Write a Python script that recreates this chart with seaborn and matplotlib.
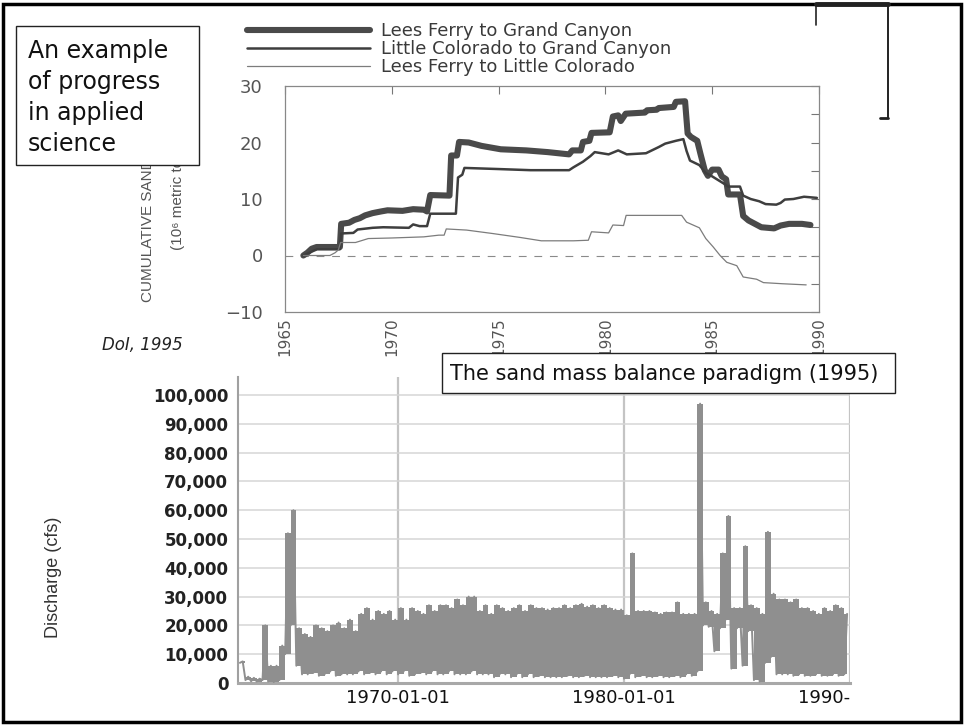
import matplotlib
matplotlib.use('Agg')
import matplotlib.pyplot as plt
import matplotlib.dates as mdates
from matplotlib.ticker import MultipleLocator, FuncFormatter
from matplotlib.patches import Rectangle
from matplotlib.lines import Line2D
from matplotlib.transforms import Bbox, TransformedBbox
from matplotlib import font_manager
import pandas as pd
import seaborn as sns

# --- top panel: cumulative sand storage, 10^6 metric tons ---
reaches = ['Lees Ferry to Grand Canyon', 'Little Colorado to Grand Canyon', 'Lees Ferry to Little Colorado']

lfgc_year = [1965.86, 1966.05, 1966.25, 1966.48, 1967.57, 1967.63, 1968.0, 1968.25, 1968.5, 1968.75,
             1969.1, 1969.5, 1969.8, 1970.5, 1971.0, 1971.5, 1971.65, 1971.8, 1972.7, 1972.78,
             1973.05, 1973.15, 1973.6, 1974.2, 1975.1, 1976.3, 1977.3, 1978.3, 1978.45, 1978.85,
             1978.95, 1979.25, 1979.35, 1980.2, 1980.35, 1980.6, 1980.72, 1980.95, 1981.85, 1981.95,
             1982.4, 1982.5, 1983.2, 1983.3, 1983.73, 1983.85, 1984.0, 1984.3, 1984.45, 1984.65,
             1984.8, 1985.0, 1985.3, 1985.45, 1985.65, 1985.75, 1986.3, 1986.45, 1986.7, 1986.9,
             1987.3, 1987.9, 1988.2, 1988.6, 1989.2, 1989.6]
lfgc_sand = [0.0, 0.5, 1.2, 1.5, 1.5, 5.6, 5.8, 6.3, 6.6, 7.1,
             7.5, 7.8, 8.0, 7.9, 8.2, 8.1, 7.8, 10.7, 10.6, 17.7,
             17.7, 20.1, 20.0, 19.4, 18.8, 18.6, 18.3, 17.9, 18.6, 18.6,
             20.1, 20.3, 21.7, 21.8, 24.6, 24.8, 23.8, 25.1, 25.3, 25.7,
             25.8, 26.1, 26.3, 27.2, 27.3, 21.6, 21.0, 20.3, 18.0, 15.1,
             14.1, 15.2, 15.2, 14.0, 13.5, 10.8, 10.8, 7.0, 6.2, 5.8,
             5.0, 4.8, 5.3, 5.6, 5.6, 5.4]

lcgc_year = [1965.86, 1966.2, 1966.5, 1967.57, 1967.63, 1968.2, 1968.4, 1969.1, 1969.6, 1970.8,
             1971.0, 1971.3, 1971.65, 1971.8, 1973.0, 1973.1, 1973.3, 1973.4, 1975.0, 1976.5,
             1978.3, 1978.5, 1978.95, 1979.3, 1979.5, 1980.15, 1980.6, 1981.0, 1981.9, 1982.5,
             1982.8, 1983.3, 1983.65, 1983.8, 1983.96, 1984.4, 1984.7, 1985.0, 1985.3, 1985.6,
             1985.75, 1986.3, 1986.45, 1986.8, 1987.2, 1987.5, 1988.0, 1988.2, 1988.4, 1988.8,
             1989.3, 1989.9]
lcgc_sand = [0.0, 0.6, 1.1, 1.1, 3.9, 4.0, 4.6, 4.9, 5.0, 4.9,
             5.5, 5.2, 5.2, 7.4, 7.4, 13.8, 14.3, 15.5, 15.3, 15.1,
             15.1, 15.6, 16.6, 17.6, 18.3, 17.9, 18.6, 17.9, 18.1, 19.2,
             19.8, 20.3, 20.6, 18.5, 16.8, 16.0, 14.6, 14.0, 13.3, 12.6,
             12.2, 12.2, 10.6, 10.0, 9.6, 9.1, 9.0, 9.3, 9.9, 10.0,
             10.4, 10.2]

lflc_year = [1965.86, 1967.1, 1967.35, 1967.5, 1967.6, 1968.3, 1968.9, 1970.0, 1971.5, 1972.2,
             1972.45, 1972.55, 1973.5, 1974.7, 1976.0, 1977.0, 1978.5, 1979.2, 1979.35, 1980.15,
             1980.35, 1980.85, 1980.97, 1983.57, 1983.8, 1984.4, 1984.7, 1985.05, 1985.37, 1985.68,
             1986.15, 1986.45, 1987.08, 1987.4, 1988.3, 1989.4]
lflc_sand = [0.0, 0.0, 0.5, 1.0, 2.3, 2.3, 3.0, 3.1, 3.3, 3.6,
             3.6, 4.7, 4.5, 3.9, 3.2, 2.6, 2.6, 2.7, 4.2, 4.0,
             5.4, 5.3, 7.1, 7.1, 5.9, 4.9, 3.0, 1.5, 0.0, -1.2,
             -1.8, -3.8, -4.2, -4.8, -5.0, -5.2]

# --- bottom panel: Lees Ferry discharge, quarterly low / high (1000 cfs) ---
flow_start = 1963
flow_lo = [7.0, 1.0, 0.6, 0.5,      # 1963
           1.0, 0.5, 0.3, 1.0,      # 1964
           10.0, 20.0, 6.0, 3.0,    # 1965
           3.0, 3.5, 2.5, 3.0,      # 1966
           4.0, 2.5, 3.0, 3.0,      # 1967
           3.0, 4.0, 3.0, 3.5,      # 1968
           3.0, 4.0, 3.0, 4.0,      # 1969
           3.0, 4.0, 2.5, 3.0,      # 1970
           3.5, 3.0, 4.0, 3.0,      # 1971
           3.0, 4.0, 3.0, 3.0,      # 1972
           3.0, 4.0, 3.0, 3.0,      # 1973
           3.0, 2.0, 3.0, 3.0,      # 1974
           2.0, 3.0, 2.0, 3.0,      # 1975
           2.0, 2.5, 2.0, 2.0,      # 1976
           2.0, 2.0, 2.5, 2.0,      # 1977
           2.0, 2.5, 2.0, 2.0,      # 1978
           2.0, 2.0, 2.5, 2.0,      # 1979
           1.5, 3.0, 2.0, 2.5,      # 1980
           2.0, 2.0, 2.5, 2.0,      # 1981
           2.0, 2.5, 2.0, 3.0,      # 1982
           2.5, 4.0, 20.0, 19.5,    # 1983
           11.0, 19.0, 22.0, 5.0,   # 1984
           19.0, 6.0, 18.0, 1.0,    # 1985
           0.5, 7.0, 9.0, 3.0,      # 1986
           3.0, 3.0, 2.5, 3.0,      # 1987
           2.5, 2.5, 3.0, 2.5,      # 1988
           2.5, 3.0, 2.5, 3.0]      # 1989
flow_hi = [7.5, 2.2, 1.8, 1.5,
           20.0, 6.0, 6.0, 13.0,
           52.0, 60.0, 19.0, 17.0,
           16.0, 20.0, 19.0, 18.0,
           20.0, 21.0, 19.0, 22.0,
           18.0, 24.0, 26.0, 22.0,
           25.0, 24.0, 25.0, 22.0,
           26.0, 22.0, 26.0, 25.0,
           24.0, 27.0, 25.0, 27.0,
           27.0, 26.0, 29.0, 27.0,
           30.0, 30.0, 25.0, 27.0,
           24.0, 27.0, 26.0, 25.0,
           26.0, 27.0, 25.0, 27.0,
           26.0, 26.0, 25.5, 26.0,
           26.0, 27.0, 26.0, 27.0,
           27.5, 26.5, 27.0, 26.0,
           27.0, 26.0, 25.5, 25.5,
           23.5, 45.0, 25.0, 25.0,
           25.0, 24.5, 24.0, 24.5,
           24.5, 28.0, 24.0, 24.0,
           24.0, 97.0, 28.0, 25.0,
           24.0, 45.0, 58.0, 26.0,
           26.0, 47.5, 27.0, 26.0,
           24.0, 52.5, 31.0, 29.0,
           29.0, 28.0, 29.0, 26.0,
           26.0, 25.0, 24.0, 26.0,
           25.0, 27.0, 26.0, 24.0]

sns.set_theme(style='white')
plt.rcParams['font.family'] = ['DejaVu Sans']

try:
    font_manager.findfont('Liberation Sans Narrow', fallback_to_default=False)
    narrow, narrow_size = 'Liberation Sans Narrow', 13
except ValueError:
    narrow, narrow_size = 'Liberation Sans', 11

W, H = 965, 726


def fx(px):
    return px / W


def fy(py):
    return 1 - py / H


fig = plt.figure(figsize=(9.65, 7.26), dpi=100)
ax1 = fig.add_axes([fx(285), fy(312), (819 - 285) / W, (312 - 86) / H])
ax2 = fig.add_axes([fx(238), fy(683), (850 - 238) / W, (683 - 377) / H])

# ---- top panel ----
sand = pd.concat([
    pd.DataFrame({'year': lfgc_year, 'storage': lfgc_sand, 'reach': reaches[0]}),
    pd.DataFrame({'year': lcgc_year, 'storage': lcgc_sand, 'reach': reaches[1]}),
    pd.DataFrame({'year': lflc_year, 'storage': lflc_sand, 'reach': reaches[2]}),
], ignore_index=True)

sns.lineplot(data=sand, x='year', y='storage', hue='reach', size='reach',
             hue_order=reaches, size_order=reaches,
             palette={reaches[0]: '#4a4a4a', reaches[1]: '#3e3e3e', reaches[2]: '#7c7c7c'},
             sizes={reaches[0]: 4.4, reaches[1]: 1.8, reaches[2]: 0.9},
             estimator=None, sort=False, legend=False, ax=ax1)
ax1.axhline(0, color='#8a8a8a', lw=0.8, ls=(0, (7, 7)), zorder=1)

ax1.set_xlim(1965, 1990)
ax1.set_ylim(-10, 30)
ax1.xaxis.set_major_locator(MultipleLocator(5))
ax1.yaxis.set_major_locator(MultipleLocator(10))
ax1.yaxis.set_minor_locator(MultipleLocator(5))
ax1.tick_params(which='both', direction='in', top=True, right=True, length=6, width=0.8, color='#777')
ax1.tick_params(axis='y', labelsize=13, labelcolor='#555', pad=16)
ax1.tick_params(axis='x', labelsize=11, labelcolor='#555', labelrotation=90, pad=4)
for s in ax1.spines.values():
    s.set_color('#888')
    s.set_linewidth(0.9)
ax1.set_xlabel('')
ax1.set_ylabel('')

ax1.legend(ax1.lines[:3], reaches, loc='upper left',
           bbox_to_anchor=(fx(247), fy(22)), bbox_transform=fig.transFigure,
           frameon=False, fontsize=13, handlelength=6.8, handletextpad=0.6,
           labelspacing=0.0, borderpad=0, borderaxespad=0, labelcolor='#3a3a3a')

fig.text(fx(148), fy(302), 'CUMULATIVE SAND', rotation=90, ha='center', va='bottom',
         fontsize=narrow_size, color='#555', family=[narrow, 'DejaVu Sans'])
fig.text(fx(178), fy(250), '(10\u2076 metric tons)', rotation=90, ha='center', va='bottom',
         fontsize=narrow_size, color='#555', family=[narrow, 'DejaVu Sans'])
fig.text(fx(102), fy(345), 'DoI, 1995', style='italic', fontsize=12, va='center', color='#222')

# ---- bottom panel ----
q_start, q_mid, cfs_lo, cfs_hi = [], [], [], []
for i, (lo, hi) in enumerate(zip(flow_lo, flow_hi)):
    yr = flow_start + i // 4
    mo = 3 * (i % 4) + 1
    q_start.append(pd.Timestamp(yr, mo, 1))
    q_mid.append(pd.Timestamp(yr, mo + 1, 15))
    cfs_lo.append(lo * 1000)
    cfs_hi.append(hi * 1000)

# solid band of daily fluctuation, then the low/high swings on top
ax2.fill_between(q_mid, cfs_lo, cfs_hi, step='mid', color='#8f8f8f', lw=0, zorder=2)
zig_dates, zig_cfs = [], []
for d0, d1, lo, hi in zip(q_start, q_mid, cfs_lo, cfs_hi):
    zig_dates += [d0, d1]
    zig_cfs += [lo, hi]
flow = pd.DataFrame({'date': zig_dates, 'cfs': zig_cfs})
sns.lineplot(data=flow, x='date', y='cfs', estimator=None, sort=False,
             color='#8f8f8f', linewidth=1.4, ax=ax2, zorder=3)

ax2.set_xlim(pd.Timestamp('1962-12-01'), pd.Timestamp('1990-01-01'))
ax2.set_ylim(0, 106250)
ax2.yaxis.set_major_locator(MultipleLocator(10000))
ax2.yaxis.set_major_formatter(FuncFormatter(lambda v, p: f'{v:,.0f}'))
ax2.xaxis.set_major_locator(mdates.YearLocator(10))
ax2.xaxis.set_major_formatter(mdates.DateFormatter('%Y-%m-%d'))
ax2.grid(True, axis='y', color='#d6d6d6', lw=1.1)
ax2.grid(True, axis='x', color='#c4c4c4', lw=1.6)
ax2.set_axisbelow(True)
ax2.spines['top'].set_visible(False)
ax2.spines['right'].set_visible(False)
ax2.spines['left'].set_color('#a0a0a0')
ax2.spines['left'].set_linewidth(1.5)
ax2.spines['bottom'].set_color('#a8a8a8')
ax2.spines['bottom'].set_linewidth(2.2)
ax2.tick_params(length=0)
ax2.tick_params(axis='y', labelsize=12, labelcolor='#222', pad=7)
ax2.tick_params(axis='x', labelsize=13, labelcolor='#111', pad=4)
for lab in ax2.get_yticklabels():
    lab.set_fontweight('bold')
ax2.set_xlabel('')
ax2.set_ylabel('')
fig.text(fx(53), fy(577), 'Discharge (cfs)', rotation=90, ha='center', va='center',
         fontsize=narrow_size + 2, color='#333', family=[narrow, 'DejaVu Sans'])

# ---- slide boxes and frame ----
fig.add_artist(Rectangle((fx(16), fy(165)), (199 - 16) / W, (165 - 26) / H, transform=fig.transFigure,
                         facecolor='white', edgecolor='#222', lw=1.0, zorder=5))
fig.text(fx(28), fy(39), 'An example\nof progress\nin applied\nscience', fontsize=17,
         ha='left', va='top', linespacing=1.36, color='#111', zorder=6)

fig.add_artist(Rectangle((fx(442), fy(393)), (895 - 442) / W, (393 - 353) / H, transform=fig.transFigure,
                         facecolor='white', edgecolor='#222', lw=1.0, zorder=5))
fig.text(fx(450), fy(374), 'The sand mass balance paradigm (1995)', fontsize=15,
         ha='left', va='center', color='#111', zorder=6)

fig.add_artist(Rectangle((fx(3), fy(722)), (961 - 3) / W, (722 - 4) / H, transform=fig.transFigure,
                         fill=False, edgecolor='black', lw=2.5, zorder=10))
deco = dict(transform=fig.transFigure, color='#222', zorder=10)
fig.add_artist(Line2D([fx(816), fx(888)], [fy(4), fy(4)], lw=3.5, **deco))
fig.add_artist(Line2D([fx(816), fx(816)], [fy(4), fy(25)], lw=1.2, **deco))
fig.add_artist(Line2D([fx(888), fx(888)], [fy(4), fy(118)], lw=1.4, **deco))
fig.add_artist(Line2D([fx(880), fx(888)], [fy(118), fy(118)], lw=2.0, **deco))

# the 1990 date label is cut at the plot edge in the original
fig.canvas.draw()
clip = TransformedBbox(Bbox([[0, 0], [fx(850), 1]]), fig.transFigure)
for lab in ax2.get_xticklabels():
    lab.set_clip_box(clip)
    lab.set_clip_on(True)

fig.savefig('out.png', dpi=100)
